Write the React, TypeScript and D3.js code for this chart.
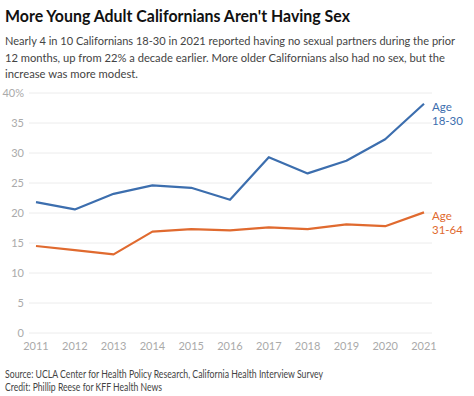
import React from "react";
import * as d3 from "d3";

const years = [2011, 2012, 2013, 2014, 2015, 2016, 2017, 2018, 2019, 2020, 2021];
const young = [21.8, 20.6, 23.2, 24.6, 24.2, 22.2, 29.3, 26.6, 28.7, 32.3, 38.2];
const older = [14.5, 13.8, 13.1, 16.9, 17.3, 17.1, 17.6, 17.3, 18.1, 17.8, 20.1];
const yTicks = [0, 5, 10, 15, 20, 25, 30, 35, 40];

const W = 474, H = 396;
const FONT = "'Source Sans Pro', Lato, 'Open Sans', sans-serif";

export default function App() {
  const x = d3.scaleLinear().domain([2011, 2021]).range([36, 424]);
  const y = d3.scaleLinear().domain([0, 40]).range([333, 93]);
  const line = d3.line<number>().x((_, i) => x(years[i])).y((d) => y(d));
  const blue = "#3c6eae";
  const orange = "#e06a2f";
  const adj = "spacingAndGlyphs";
  return (
    <svg width={W} height={H} style={{ position: "absolute", left: 0, top: 0, background: "#fff" }} fontFamily={FONT}>
      <text x={5} y={22} fontSize={17} fontWeight={700} fill="#111" textLength={345} lengthAdjust={adj}>More Young Adult Californians Aren't Having Sex</text>
      <text fontSize={11.2} fill="#444">
        <tspan x={5} y={45} textLength={450} lengthAdjust={adj}>Nearly 4 in 10 Californians 18-30 in 2021 reported having no sexual partners during the prior</tspan>
        <tspan x={5} y={62} textLength={440} lengthAdjust={adj}>12 months, up from 22% a decade earlier. More older Californians also had no sex, but the</tspan>
        <tspan x={5} y={78} textLength={133} lengthAdjust={adj}>increase was more modest.</tspan>
      </text>
      {yTicks.map((t) => (
        <g key={t}>
          <line x1={29} x2={432} y1={y(t)} y2={y(t)} stroke="#ececec" strokeWidth={1} />
          <text x={24} y={y(t)} dy="0.35em" textAnchor="end" fontSize={11} fill="#aaa">
            {t === 40 ? "40%" : t}
          </text>
        </g>
      ))}
      {years.map((yr) => (
        <text key={yr} x={x(yr)} y={346} dy="0.35em" textAnchor="middle" fontSize={11} fill="#aaa">{yr}</text>
      ))}
      <path d={line(older) || ""} fill="none" stroke={orange} strokeWidth={2.2} strokeLinejoin="round" />
      <path d={line(young) || ""} fill="none" stroke={blue} strokeWidth={2.2} strokeLinejoin="round" />
      <text fontSize={11.5} fill={blue}>
        <tspan x={432} y={107} dy="0.35em">Age</tspan>
        <tspan x={432} y={120.5} dy="0.35em">18-30</tspan>
      </text>
      <text fontSize={11.5} fill={orange}>
        <tspan x={432} y={216} dy="0.35em">Age</tspan>
        <tspan x={432} y={229.5} dy="0.35em">31-64</tspan>
      </text>
      <text fontSize={10.5} fill="#444">
        <tspan x={5} y={378} textLength={318} lengthAdjust={adj}>Source: UCLA Center for Health Policy Research, California Health Interview Survey</tspan>
        <tspan x={5} y={391} textLength={157} lengthAdjust={adj}>Credit: Phillip Reese for KFF Health News</tspan>
      </text>
    </svg>
  );
}
